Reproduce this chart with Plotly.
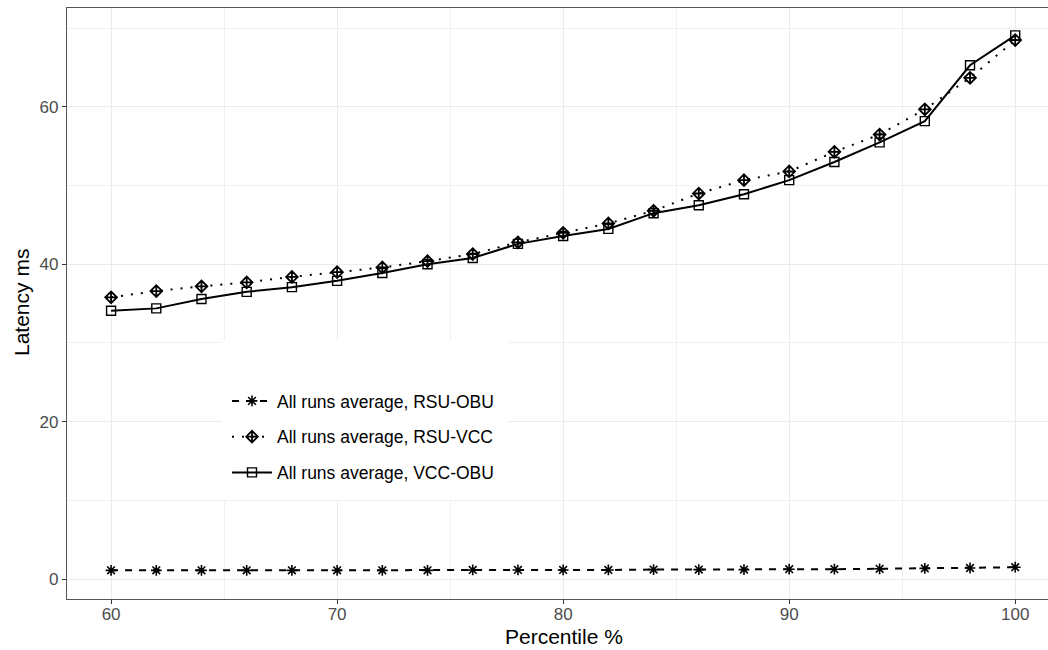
import plotly.graph_objects as go

percentile = [60, 62, 64, 66, 68, 70, 72, 74, 76, 78, 80, 82, 84, 86, 88, 90, 92, 94, 96, 98, 100]
rsu_obu = [1.1, 1.1, 1.1, 1.1, 1.1, 1.1, 1.1, 1.1, 1.15, 1.15, 1.15, 1.15, 1.2, 1.2, 1.2, 1.25, 1.25, 1.3, 1.35, 1.4, 1.5]
rsu_vcc = [35.8, 36.6, 37.2, 37.7, 38.4, 39.0, 39.6, 40.4, 41.3, 42.8, 44.0, 45.2, 46.8, 49.0, 50.7, 51.8, 54.3, 56.5, 59.7, 63.7, 68.5]
vcc_obu = [34.1, 34.4, 35.6, 36.5, 37.1, 37.9, 38.9, 40.0, 40.8, 42.6, 43.6, 44.5, 46.5, 47.5, 48.9, 50.7, 53.0, 55.5, 58.2, 65.3, 69.1]

names = ["All runs average, RSU-OBU", "All runs average, RSU-VCC", "All runs average, VCC-OBU"]
x_ticks = [60, 70, 80, 90, 100]
y_ticks = [0, 20, 40, 60]

fig = go.Figure()
fig.add_trace(go.Scatter(
    x=percentile, y=rsu_obu, name=names[0], mode="lines+markers", legendgroup="a",
    line=dict(color="black", width=2, dash="7px,7px"),
    marker=dict(symbol="asterisk-open", size=9, color="black", line=dict(color="black", width=1.6)),
))
fig.add_trace(go.Scatter(
    x=percentile, y=rsu_vcc, name=names[1], mode="lines+markers", legendgroup="b",
    line=dict(color="black", width=2, dash="2px,8px"),
    marker=dict(symbol="diamond-cross-open", size=9, color="black", line=dict(color="black", width=1.8)),
))
fig.add_trace(go.Scatter(
    x=percentile, y=vcc_obu, name=names[2], mode="lines+markers", legendgroup="c",
    line=dict(color="black", width=2),
    marker=dict(symbol="square-open", size=9, color="black", line=dict(color="black", width=1.4)),
))

L, T, B = 67, 8, 51
W, H = 1048, 650
pw = W - L
ph = H - T - B

def px_x(p):
    return (p - L) / pw

def px_y(p):
    return (H - B - p) / ph

fig.add_shape(type="rect", xref="paper", yref="paper",
              x0=px_x(222), x1=px_x(508), y0=px_y(500), y1=px_y(340),
              fillcolor="white", line=dict(width=0), layer="above")

fig.update_layout(
    width=W, height=H,
    margin=dict(l=L, r=0, t=T, b=B),
    plot_bgcolor="white", paper_bgcolor="white",
    font=dict(family="Liberation Sans, Arial, sans-serif", color="black"),
    showlegend=True,
    legend=dict(
        x=px_x(227), y=px_y(383), xanchor="left", yanchor="top",
        bgcolor="rgba(0,0,0,0)", font=dict(size=17.5, color="black"),
        tracegroupgap=10, traceorder="grouped", itemwidth=40,
    ),
    xaxis=dict(
        range=[58.05, 101.45], tickvals=x_ticks, ticktext=[str(v) for v in x_ticks],
        showgrid=True, gridcolor="#EBEBEB", gridwidth=1.2,
        minor=dict(tickvals=[65, 75, 85, 95], showgrid=True, gridcolor="#F0F0F0", gridwidth=1, ticks=""),
        showline=True, linecolor="#555555", linewidth=1.2, mirror=True,
        ticks="outside", ticklen=4, tickcolor="#333333", tickwidth=1.2,
        ticklabelstandoff=-5,
        tickfont=dict(size=17, color="#4D4D4D"), zeroline=False,
    ),
    yaxis=dict(
        range=[-2.54, 72.58], tickvals=y_ticks, ticktext=[str(v) for v in y_ticks],
        showgrid=True, gridcolor="#EBEBEB", gridwidth=1.2,
        minor=dict(tickvals=[10, 30, 50, 70], showgrid=True, gridcolor="#F0F0F0", gridwidth=1, ticks=""),
        showline=True, linecolor="#555555", linewidth=1.2, mirror=False,
        ticks="outside", ticklen=4, tickcolor="#333333", tickwidth=1.2,
        tickfont=dict(size=17, color="#4D4D4D"), zeroline=False,
    ),
    annotations=[
        dict(text="Percentile %", xref="paper", yref="paper", x=px_x(564), y=px_y(637),
             xanchor="center", yanchor="middle", showarrow=False, font=dict(size=21, color="black")),
        dict(text="Latency ms", xref="paper", yref="paper", x=px_x(21), y=px_y(303),
             xanchor="center", yanchor="middle", showarrow=False, textangle=-90,
             font=dict(size=21, color="black")),
    ],
)

fig.write_html("out.html")
